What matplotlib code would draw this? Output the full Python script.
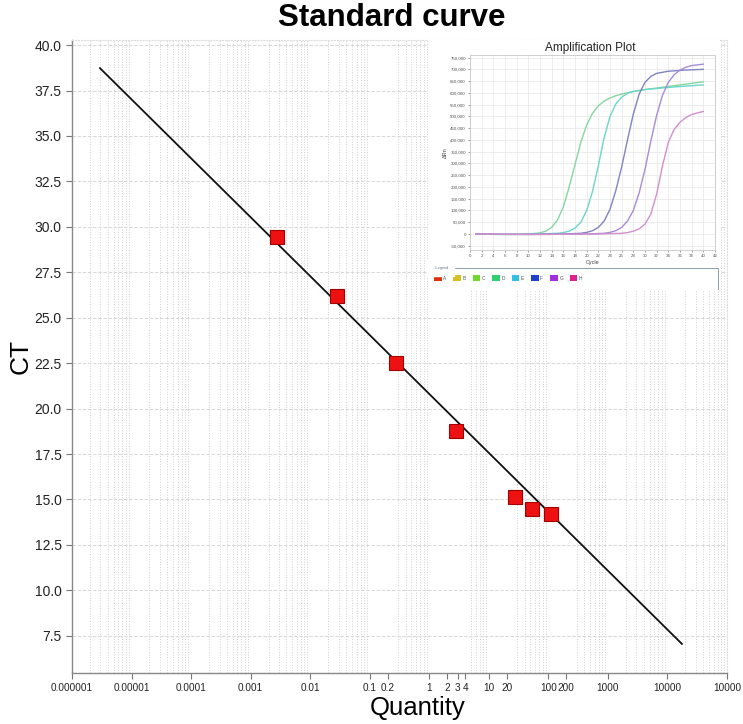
import matplotlib
matplotlib.use('Agg')
import matplotlib.pyplot as plt
import matplotlib.ticker as mticker
from matplotlib.patches import Rectangle

plt.rcParams['font.family'] = ['Liberation Sans', 'DejaVu Sans']

# =============================================================================
# DATA
# =============================================================================
# standard curve points (quantity, CT)
quantity = [0.0028, 0.028, 0.28, 2.8, 27, 54, 110]
ct = [29.46, 26.19, 22.49, 18.78, 15.15, 14.46, 14.19]

# fitted line end points
line_q = [2.95e-6, 17500]
line_ct = [38.73, 7.05]

x_ticks = [1e-6, 1e-5, 1e-4, 1e-3, 1e-2, 0.1, 0.2, 1, 2, 3, 4, 10, 20,
           100, 200, 1000, 1e4, 1e5]
x_labels = ['0.000001', '0.00001', '0.0001', '0.001', '0.01', '0.1', '0.2',
            '1', '2', '3', '4', '10', '20', '100', '200', '1000', '10000',
            '10000']
y_ticks = [7.5, 10.0, 12.5, 15.0, 17.5, 20.0, 22.5, 25.0, 27.5, 30.0,
           32.5, 35.0, 37.5, 40.0]

# amplification plot (inset) curves: cycle, delta Rn
green_cyc = [1, 5, 9, 11, 12, 13, 14, 15, 16, 17, 18, 19, 20, 21, 22, 23,
             24, 25, 26, 28, 30, 33, 36, 40]
green_rn = [0, -2000, -1000, 2000, 5000, 12000, 28000, 60000, 115000,
            200000, 295000, 390000, 463000, 513000, 545000, 565000, 578000,
            588000, 595000, 606000, 614000, 624000, 634000, 647000]

teal_cyc = [1, 6, 12, 15, 16, 17, 18, 19, 20, 21, 22, 23, 24, 25, 26, 27,
            28, 30, 33, 36, 40]
teal_rn = [0, -2000, 0, 3000, 6000, 12000, 25000, 50000, 100000, 180000,
           290000, 410000, 500000, 553000, 582000, 598000, 606000, 614000,
           621000, 627000, 634000]

blue_cyc = [1, 8, 16, 19, 20, 21, 22, 23, 24, 25, 26, 27, 28, 29, 30, 31,
            32, 34, 37, 40]
blue_rn = [0, -2000, 0, 3000, 7000, 14000, 28000, 55000, 105000, 185000,
           285000, 400000, 510000, 595000, 645000, 670000, 683000, 692000,
           697000, 700000]

purple_cyc = [1, 10, 20, 23, 24, 25, 26, 27, 28, 29, 30, 31, 32, 33, 34,
              35, 36, 37, 38, 40]
purple_rn = [0, -2000, 0, 3000, 7000, 14000, 28000, 55000, 100000, 175000,
             275000, 395000, 505000, 590000, 645000, 677000, 697000, 709000,
             716000, 722000]

pink_cyc = [1, 12, 22, 26, 27, 28, 29, 30, 31, 32, 33, 34, 35, 36, 37, 38,
            39, 40]
pink_rn = [0, -2000, 0, 3000, 6000, 12000, 22000, 42000, 85000, 170000,
           290000, 390000, 445000, 475000, 495000, 508000, 515000, 521000]

amp_series = [(green_cyc, green_rn, '#85d6a0'),
              (teal_cyc, teal_rn, '#6cd6c8'),
              (blue_cyc, blue_rn, '#8084c2'),
              (purple_cyc, purple_rn, '#a98bd6'),
              (pink_cyc, pink_rn, '#d48fce')]

legend_names = ['A', 'B', 'C', 'D', 'E', 'F', 'G', 'H']
legend_colors = ['#e03010', '#d8c020', '#70d830', '#30d070', '#30c0e0',
                 '#2040d0', '#a030e0', '#e02090']


# =============================================================================
# MAIN CHART
# =============================================================================
W, H = 743, 724
fig = plt.figure(figsize=(W / 100, H / 100), dpi=100)


def px_box(x0, y0, x1, y1):
    """pixel box (top-left origin) -> figure fraction rect"""
    return [x0 / W, 1 - y1 / H, (x1 - x0) / W, (y1 - y0) / H]


ax = fig.add_axes(px_box(72, 40, 727, 673))
ax.set_xscale('log')
ax.set_xlim(1e-6, 1e5)
ax.set_ylim(5.45, 40.28)

ax.plot(line_q, line_ct, color='#111111', linewidth=1.3, zorder=3)
ax.plot(quantity, ct, linestyle='none', marker='s', markersize=10,
        markerfacecolor='#ee1111', markeredgecolor='#a00000',
        markeredgewidth=0.8, zorder=4)

ax.xaxis.set_major_locator(mticker.FixedLocator(x_ticks))
ax.xaxis.set_major_formatter(mticker.FixedFormatter(x_labels))
ax.xaxis.set_minor_locator(mticker.LogLocator(base=10, subs=range(1, 10), numticks=50))
ax.xaxis.set_minor_formatter(mticker.NullFormatter())
ax.set_yticks(y_ticks)
ax.yaxis.set_major_formatter(mticker.FormatStrFormatter('%.1f'))

ax.tick_params(axis='x', which='major', labelsize=7.2, length=4,
               color='#777777', pad=3, labelcolor='#222222')
ax.tick_params(axis='x', which='minor', length=0)
ax.tick_params(axis='y', labelsize=10, length=4, color='#777777',
               labelcolor='#222222')

ax.grid(False)
ax.grid(True, which='minor', axis='x', linestyle=':', color='#cfcfcf', linewidth=0.7)
ax.grid(True, which='major', axis='y', linestyle='--', color='#d8d8d8', linewidth=0.7)

for side in ['left', 'bottom']:
    ax.spines[side].set_color('#888888')
    ax.spines[side].set_linewidth(1.0)
for side in ['top', 'right']:
    ax.spines[side].set_color('#dddddd')
    ax.spines[side].set_linestyle(':')

ax.set_xlabel('Quantity', fontsize=18.5)
ax.xaxis.set_label_coords(0.527, -0.037)
ax.set_ylabel('CT', fontsize=19, labelpad=1)
fig.text(392 / W, 1 - 18 / H, 'Standard curve', ha='center', va='center',
         fontsize=22.5, fontweight='bold')

# =============================================================================
# INSET: AMPLIFICATION PLOT
# =============================================================================
box = fig.add_axes(px_box(428, 40, 720, 290), zorder=5)
box.set_xlim(428, 720)
box.set_ylim(290, 40)
box.set_facecolor('white')
box.set_xticks([])
box.set_yticks([])
for s in box.spines.values():
    s.set_visible(False)

box.text(590, 48, 'Amplification Plot', ha='center', va='center', fontsize=8.5,
         color='#222222')

amp = fig.add_axes(px_box(470, 55, 715, 250), zorder=6)
for cyc, rn, col in amp_series:
    amp.plot(cyc, rn, color=col, linewidth=1.0)
amp.set_xlim(0, 42)
amp.set_ylim(-68000, 761000)
amp.set_xticks(range(0, 43, 2))
amp.set_yticks(range(-50000, 750001, 50000))
amp.yaxis.set_major_formatter(mticker.FuncFormatter(lambda v, p: f'{v:,.0f}'))
amp.tick_params(labelsize=3.2, length=1.5, width=0.4, pad=1.5,
                colors='#555555')
amp.grid(True, color='#e6e6e6', linewidth=0.5)
for s in amp.spines.values():
    s.set_color('#c8c8c8')
    s.set_linewidth(0.6)
amp.set_xlabel('Cycle', fontsize=4, labelpad=1.5, color='#444444')
amp.set_ylabel('\u0394Rn', fontsize=4, labelpad=2, color='#444444')

# legend strip under the inset plot
box.plot([437, 718, 718], [268, 268, 290], color='#8aa0b0', linewidth=0.7)
box.text(433, 268, '- Legend', fontsize=2.8, va='center', color='#667788',
         backgroundcolor='white')
for i, (name, col) in enumerate(zip(legend_names, legend_colors)):
    x0 = 434 + i * 19.4
    box.add_patch(Rectangle((x0, 275), 7.5, 6, facecolor=col, edgecolor='none'))
    box.text(x0 + 9, 278, name, fontsize=3.5, va='center', color='#555555')

fig.savefig('out.png', dpi=100)
